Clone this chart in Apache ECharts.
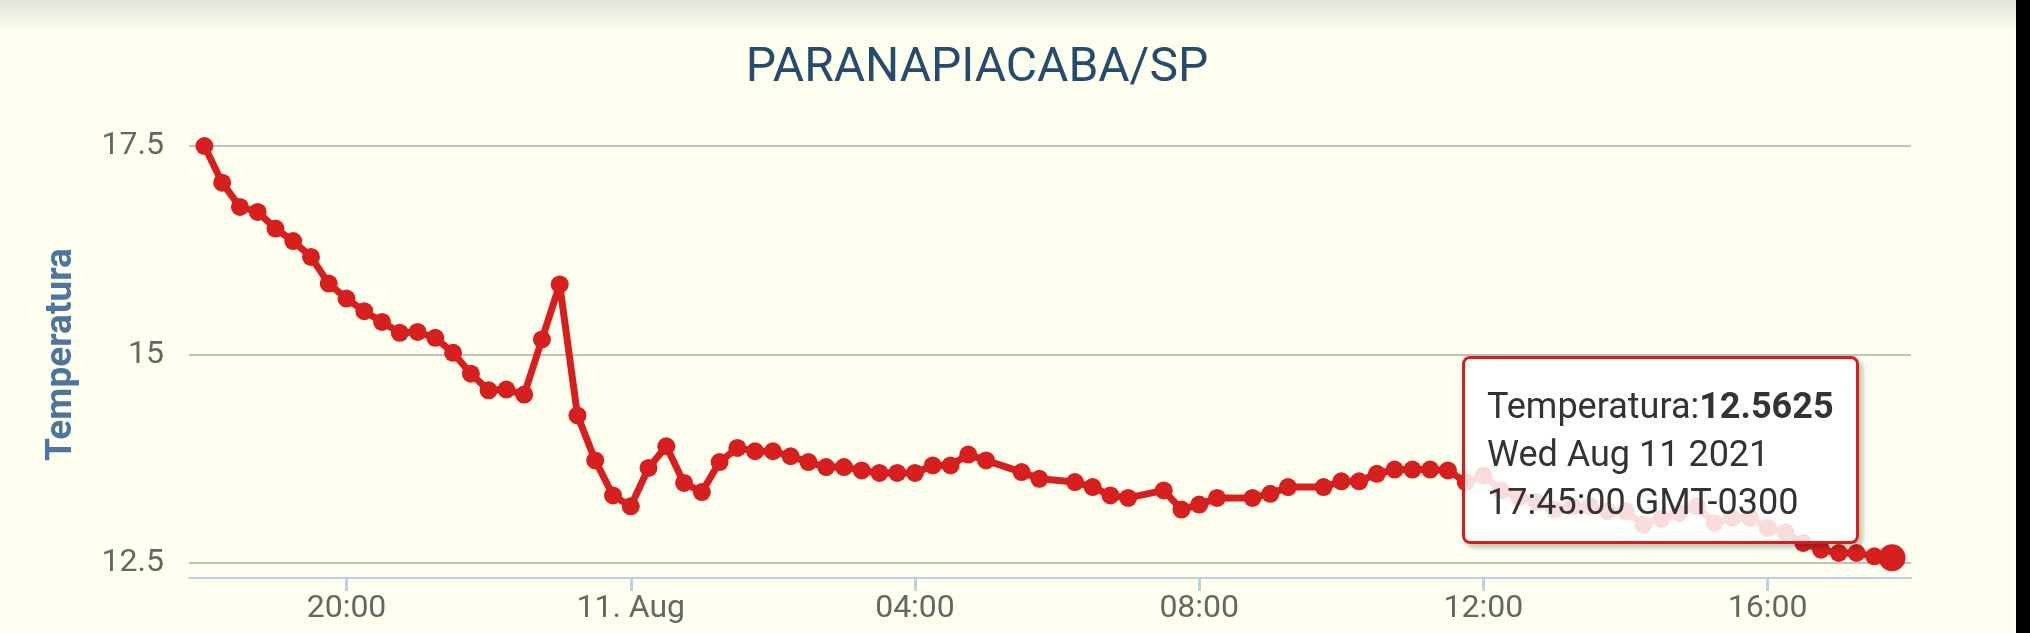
<!DOCTYPE html>
<html>
<head>
<meta charset="utf-8">
<script src="https://cdn.jsdelivr.net/npm/echarts@6/dist/echarts.min.js"></script>
<style>
  html, body { margin: 0; padding: 0; background: #000; }
  #wrap { position: relative; width: 2016px; height: 633px; background: #fffff0; }
  #chart { position: absolute; left: 0; top: 0; width: 2016px; height: 633px; }
  #shade { position: absolute; left: 0; top: 0; width: 2016px; height: 32px;
           background: linear-gradient(to bottom, #e2e2d8 0%, #fffff0 100%); pointer-events: none; }
</style>
</head>
<body>
<div id="wrap"><div id="chart"></div><div id="shade"></div></div>
<script>
// ---- data ----
const chartTitle = 'PARANAPIACABA/SP';
const seriesName = 'Temperatura';
const times = [
  '2021-08-10 18:00','2021-08-10 18:15','2021-08-10 18:30','2021-08-10 18:45',
  '2021-08-10 19:00','2021-08-10 19:15','2021-08-10 19:30','2021-08-10 19:45',
  '2021-08-10 20:00','2021-08-10 20:15','2021-08-10 20:30','2021-08-10 20:45',
  '2021-08-10 21:00','2021-08-10 21:15','2021-08-10 21:30','2021-08-10 21:45',
  '2021-08-10 22:00','2021-08-10 22:15','2021-08-10 22:30','2021-08-10 22:45',
  '2021-08-10 23:00','2021-08-10 23:15','2021-08-10 23:30','2021-08-10 23:45',
  '2021-08-11 00:00','2021-08-11 00:15','2021-08-11 00:30','2021-08-11 00:45',
  '2021-08-11 01:00','2021-08-11 01:15','2021-08-11 01:30','2021-08-11 01:45',
  '2021-08-11 02:00','2021-08-11 02:15','2021-08-11 02:30','2021-08-11 02:45',
  '2021-08-11 03:00','2021-08-11 03:15','2021-08-11 03:30','2021-08-11 03:45',
  '2021-08-11 04:00','2021-08-11 04:15','2021-08-11 04:30','2021-08-11 04:45',
  '2021-08-11 05:00','2021-08-11 05:30','2021-08-11 05:45',
  '2021-08-11 06:15','2021-08-11 06:30','2021-08-11 06:45',
  '2021-08-11 07:00','2021-08-11 07:30','2021-08-11 07:45',
  '2021-08-11 08:00','2021-08-11 08:15','2021-08-11 08:45',
  '2021-08-11 09:00','2021-08-11 09:15','2021-08-11 09:45',
  '2021-08-11 10:00','2021-08-11 10:15','2021-08-11 10:30','2021-08-11 10:45',
  '2021-08-11 11:00','2021-08-11 11:15','2021-08-11 11:30','2021-08-11 11:45',
  '2021-08-11 12:00','2021-08-11 12:15','2021-08-11 12:30','2021-08-11 12:45',
  '2021-08-11 13:00','2021-08-11 13:15','2021-08-11 13:30','2021-08-11 13:45',
  '2021-08-11 14:00','2021-08-11 14:15','2021-08-11 14:30','2021-08-11 14:45',
  '2021-08-11 15:00','2021-08-11 15:15','2021-08-11 15:30','2021-08-11 15:45',
  '2021-08-11 16:00','2021-08-11 16:15','2021-08-11 16:30','2021-08-11 16:45',
  '2021-08-11 17:00','2021-08-11 17:15','2021-08-11 17:30','2021-08-11 17:45'
];
const temps = [
  17.5, 17.06, 16.77, 16.71,
  16.51, 16.36, 16.17, 15.85,
  15.67, 15.52, 15.39, 15.26,
  15.27, 15.20, 15.02, 14.77,
  14.57, 14.58, 14.52, 15.18,
  15.84, 14.27, 13.73, 13.31,
  13.18, 13.64, 13.90, 13.46,
  13.35, 13.71, 13.88, 13.84,
  13.84, 13.78, 13.71, 13.65,
  13.65, 13.61, 13.58, 13.58,
  13.58, 13.67, 13.67, 13.80,
  13.73, 13.59, 13.51,
  13.47, 13.41, 13.31,
  13.28, 13.37, 13.14,
  13.20, 13.28, 13.28,
  13.33, 13.41, 13.41,
  13.48, 13.48, 13.57, 13.62,
  13.62, 13.62, 13.61, 13.47,
  13.55, 13.37, 13.29, 13.23,
  13.14, 13.18, 13.18, 13.12,
  13.12, 12.96, 13.03, 13.10,
  13.18, 12.98, 13.04, 13.04,
  12.92, 12.87, 12.74, 12.66,
  12.62, 12.62, 12.58, 12.5625
];
const xRange = ['2021-08-10 17:47', '2021-08-11 18:01'];
const xTickTimes = ['2021-08-10 20:00','2021-08-11 00:00','2021-08-11 04:00','2021-08-11 08:00','2021-08-11 12:00','2021-08-11 16:00'];
const xTickLabels = ['20:00', '11. Aug', '04:00', '08:00', '12:00', '16:00'];
const yTicks = [12.5, 15, 17.5];
const tzLabel = 'GMT-0300';

// ---- chart ----
const P = s => echarts.number.parseDate(s).getTime();
const pts = times.map((t, i) => [P(t), temps[i]]);
const last = pts.length - 1;
const tickMs = xTickTimes.map(P);
const pad = n => (n < 10 ? '0' : '') + n;
const FONT = 'Roboto';
const RED = '#d61f1f';

const chart = echarts.init(document.getElementById('chart'), null, { renderer: 'canvas' });
chart.setOption({
  animation: false,
  backgroundColor: 'transparent',
  textStyle: { fontFamily: FONT },
  title: {
    text: chartTitle, left: 972, top: 40, textAlign: 'center',
    textStyle: { fontFamily: FONT, fontSize: 48, fontWeight: 'normal', color: '#274b6d' }
  },
  grid: { left: 189, right: 105, top: 146, bottom: 70, containLabel: false },
  xAxis: {
    type: 'value', min: P(xRange[0]), max: P(xRange[1]), offset: 15,
    axisLine: { show: true, lineStyle: { color: '#c0d0e0', width: 2 } },
    axisTick: { show: true, length: 13, lineStyle: { color: '#c0d0e0', width: 3 }, customValues: tickMs },
    axisLabel: {
      customValues: tickMs, margin: 15, color: '#666', fontSize: 32, fontFamily: FONT,
      formatter: v => { const k = tickMs.indexOf(v); return k >= 0 ? xTickLabels[k] : ''; }
    },
    splitLine: { show: false }
  },
  yAxis: {
    type: 'value', min: yTicks[0], max: yTicks[yTicks.length - 1], interval: 2.5,
    name: seriesName, nameLocation: 'middle', nameGap: 109,
    nameTextStyle: { fontFamily: FONT, fontSize: 37, fontWeight: 'bold', color: '#4d759e' },
    axisLine: { show: false }, axisTick: { show: false },
    axisLabel: { margin: 25, color: '#666', fontSize: 32, fontFamily: FONT, padding: [12, 0, 0, 0] },
    splitLine: { lineStyle: { color: '#c0c0c0', width: 2 } }
  },
  tooltip: {
    trigger: 'item', triggerOn: 'none', alwaysShowContent: true, transitionDuration: 0,
    position: [1462, 356],
    backgroundColor: 'rgba(255,255,255,0.85)', borderColor: '#d42020', borderWidth: 3,
    padding: [23, 22, 15, 22],
    textStyle: { fontFamily: FONT, fontSize: 36, color: '#333' },
    extraCssText: 'box-shadow: 4px 4px 4px rgba(0,0,0,0.22); border-radius: 8px; line-height: 48px;',
    formatter: p => {
      const d = new Date(p.value[0]);
      return seriesName + ':<b>' + p.value[1] + '</b><br/>' + d.toDateString() + '<br/>' +
        pad(d.getHours()) + ':' + pad(d.getMinutes()) + ':' + pad(d.getSeconds()) + ' ' + tzLabel;
    }
  },
  series: [
    {
      type: 'line', name: seriesName, data: pts,
      symbol: 'circle', symbolSize: 18, showAllSymbol: true,
      lineStyle: { color: RED, width: 7 },
      itemStyle: { color: RED },
      emphasis: { disabled: true }
    },
    {
      type: 'scatter', name: seriesName, data: [pts[last]],
      symbol: 'circle', symbolSize: 27, itemStyle: { color: RED, opacity: 1 },
      emphasis: { disabled: true }, z: 3
    }
  ]
});
chart.dispatchAction({ type: 'showTip', seriesIndex: 1, dataIndex: 0 });
</script>
</body>
</html>
